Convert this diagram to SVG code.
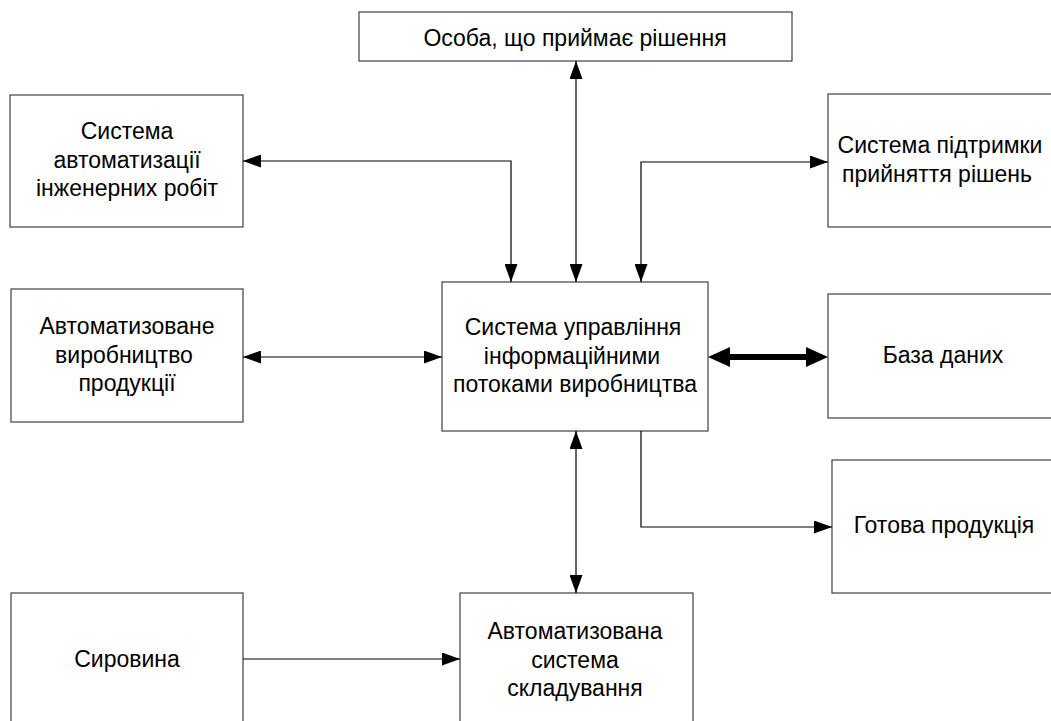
<svg xmlns="http://www.w3.org/2000/svg" width="1051" height="721" viewBox="0 0 1051 721">
  <style>
    .box { fill: #ffffff; stroke: #404040; stroke-width: 1.2; }
    .t { font-family: "Liberation Sans", Arial, sans-serif; font-size: 23px; fill: #000000; text-anchor: middle; }
    .ln { fill: none; stroke: #000000; stroke-width: 1.2; }
    .thick { fill: none; stroke: #000000; stroke-width: 6; }
  </style>
  <defs>
    <marker id="arr" markerUnits="userSpaceOnUse" viewBox="0 0 18 13" refX="18" refY="6.5" markerWidth="18" markerHeight="13" orient="auto-start-reverse">
      <path d="M0,0 L18,6.5 L0,13 z" fill="#000000"/>
    </marker>
    <marker id="arrT" markerUnits="userSpaceOnUse" viewBox="0 0 22 20" refX="5" refY="10" markerWidth="22" markerHeight="20" orient="auto-start-reverse">
      <path d="M0,0 L22,10 L0,20 z" fill="#000000"/>
    </marker>
  </defs>
  <rect width="1051" height="721" fill="#ffffff"/>

  <g id="node-person">
    <rect class="box" x="359" y="12" width="433" height="49"/>
    <text class="t" x="575" y="46">Особа, що приймає рішення</text>
  </g>
  <g id="node-sai">
    <rect class="box" x="10" y="95" width="233" height="132"/>
    <text class="t" x="127" y="139">Система</text>
    <text class="t" x="127" y="167.5">автоматизації</text>
    <text class="t" x="127" y="196">інженерних робіт</text>
  </g>
  <g id="node-sppr">
    <rect class="box" x="828" y="94" width="240" height="133"/>
    <text class="t" x="940" y="153">Система підтримки</text>
    <text class="t" x="937" y="181.5">прийняття рішень</text>
  </g>
  <g id="node-avp">
    <rect class="box" x="11" y="289" width="232" height="133"/>
    <text class="t" x="127" y="334">Автоматизоване</text>
    <text class="t" x="124" y="362.5">виробництво</text>
    <text class="t" x="127" y="391">продукції</text>
  </g>
  <g id="node-central">
    <rect class="box" x="442" y="282" width="266" height="149"/>
    <text class="t" x="573" y="335">Система управління</text>
    <text class="t" x="572" y="363.5">інформаційними</text>
    <text class="t" x="575" y="392">потоками виробництва</text>
  </g>
  <g id="node-db">
    <rect class="box" x="828" y="294" width="240" height="124"/>
    <text class="t" x="943" y="363">База даних</text>
  </g>
  <g id="node-gotova">
    <rect class="box" x="832" y="460" width="240" height="133"/>
    <text class="t" x="944" y="533">Готова продукція</text>
  </g>
  <g id="node-syrovyna">
    <rect class="box" x="11" y="593" width="232" height="140"/>
    <text class="t" x="127" y="667">Сировина</text>
  </g>
  <g id="node-ass">
    <rect class="box" x="460" y="593" width="233" height="140"/>
    <text class="t" x="575" y="639">Автоматизована</text>
    <text class="t" x="575" y="667.5">система</text>
    <text class="t" x="575" y="696">складування</text>
  </g>

  <g id="connectors">
    <path class="ln" d="M576,61 L576,282" marker-start="url(#arr)" marker-end="url(#arr)"/>
    <path class="ln" d="M243,161 L511,161 L511,282" marker-start="url(#arr)" marker-end="url(#arr)"/>
    <path class="ln" d="M828,162 L641,162 L641,282" marker-start="url(#arr)" marker-end="url(#arr)"/>
    <path class="ln" d="M243,357 L442,357" marker-start="url(#arr)" marker-end="url(#arr)"/>
    <path class="thick" d="M725,357 L811,357" marker-start="url(#arrT)" marker-end="url(#arrT)"/>
    <path class="ln" d="M576,431 L576,593" marker-start="url(#arr)" marker-end="url(#arr)"/>
    <path class="ln" d="M641,431 L641,527 L832,527" marker-end="url(#arr)"/>
    <path class="ln" d="M243,659 L460,659" marker-end="url(#arr)"/>
  </g>
</svg>
